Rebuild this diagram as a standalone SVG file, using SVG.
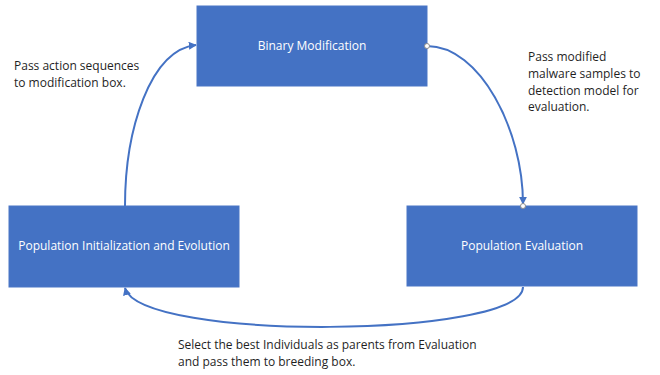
<svg xmlns="http://www.w3.org/2000/svg" width="660" height="375" viewBox="0 0 660 375">
<style>
.box{fill:#4472C4;stroke:#4A76C6;stroke-width:1}
.lbl{font-family:"Open Sans","Liberation Sans",sans-serif;font-size:12px;fill:#FFFFFF;text-anchor:middle}
.note{font-family:"Open Sans","Liberation Sans",sans-serif;font-size:12px;fill:#1F1F1F}
.conn{fill:none;stroke:#4472C4;stroke-width:2}
.dot{fill:#FFFFFF;stroke:#8C8C8C;stroke-width:1}
</style>
<defs>
<marker id="arr" viewBox="0 0 10 10" refX="9" refY="5" markerWidth="4" markerHeight="4" orient="auto" markerUnits="strokeWidth">
<path d="M0,0 L10,5 L0,10 Z" fill="#4472C4"/>
</marker>
</defs>
<rect width="660" height="375" fill="#FFFFFF"/>
<g id="connectors">
<path class="conn" d="M125,206 C125,130 150,50 196,45" marker-end="url(#arr)"/>
<path class="conn" d="M427,46 C480,46 523,130 523,204" marker-end="url(#arr)"/>
<path class="conn" d="M523,287 C523,338 140,342 125,288" marker-end="url(#arr)"/>
</g>
<g id="binary-modification">
<rect class="box" x="197" y="6" width="230" height="80"/>
<text class="lbl" x="312" y="50">Binary Modification</text>
</g>
<g id="population-evaluation">
<rect class="box" x="407" y="206" width="230" height="80"/>
<text class="lbl" x="522" y="250">Population Evaluation</text>
</g>
<g id="population-init">
<rect class="box" x="9" y="206" width="230" height="81"/>
<text class="lbl" x="124" y="250">Population Initialization and Evolution</text>
</g>
<g id="dots">
<circle class="dot" cx="427" cy="46" r="2.5"/>
<circle class="dot" cx="523" cy="206" r="2.5"/>
</g>
<g id="notes">
<text class="note" x="14" y="70">Pass action sequences</text>
<text class="note" x="14" y="87">to modification box.</text>
<text class="note" x="528" y="61">Pass modified</text>
<text class="note" x="528" y="78">malware samples to</text>
<text class="note" x="528" y="95">detection model for</text>
<text class="note" x="528" y="111">evaluation.</text>
<text class="note" x="178" y="349">Select the best Individuals as parents from Evaluation</text>
<text class="note" x="178" y="366">and pass them to breeding box.</text>
</g>
</svg>
